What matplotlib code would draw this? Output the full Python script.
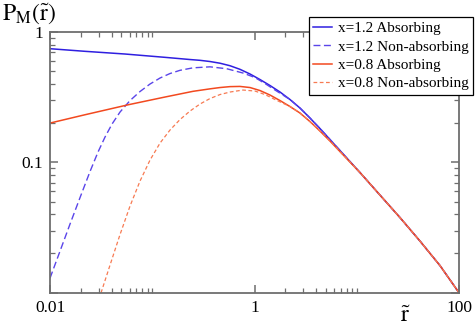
import matplotlib
matplotlib.use('Agg')
import matplotlib.pyplot as plt
from matplotlib.ticker import FixedLocator, FixedFormatter, NullFormatter

plt.rcParams['font.family'] = ['Liberation Serif', 'DejaVu Serif']
plt.rcParams['mathtext.fontset'] = 'stix'

# x=1.2 Absorbing
r_b_abs = [0.01, 0.02199, 0.05413, 0.1332, 0.2339, 0.2931, 0.3671, 0.4599, 0.5760,
           0.7215, 0.9037, 1.132, 1.418, 1.776, 2.224, 2.786, 3.490, 4.371, 5.475,
           6.858, 10.76, 16.88, 26.49, 41.56, 65.21, 100]
p_b_abs = [0.7446, 0.7110, 0.6779, 0.6393, 0.6150, 0.6065, 0.5938, 0.5762, 0.5512,
           0.5172, 0.4762, 0.4318, 0.3885, 0.3464, 0.3034, 0.2610, 0.2188, 0.1817, 0.1496,
           0.1232, 0.0835, 0.0561, 0.0377, 0.02489, 0.01614, 0.01]

# x=1.2 Non-absorbing
r_b_non = [0.01, 0.01253, 0.01569, 0.01966, 0.02461, 0.02946, 0.03450, 0.04040, 0.04837,
           0.06059, 0.07590, 0.09506, 0.1191, 0.1491, 0.1868, 0.2503, 0.3671, 0.5346,
           0.7718, 1.011, 1.267, 1.587, 2.224, 2.786, 3.490, 4.371, 5.475,
           6.858, 10.76, 16.88, 26.49, 41.56, 65.21, 100]
p_b_non = [0.01294, 0.02086, 0.03362, 0.05369, 0.08501, 0.1199, 0.1563, 0.1967, 0.2432,
           0.2979, 0.3495, 0.3990, 0.4436, 0.4802, 0.5083, 0.5311, 0.5406, 0.5228,
           0.4845, 0.4474, 0.4025, 0.3588, 0.3034, 0.2610, 0.2188, 0.1817, 0.1496,
           0.1232, 0.0835, 0.0561, 0.0377, 0.02489, 0.01614, 0.01]

# x=0.8 Absorbing
r_r_abs = [0.01, 0.02199, 0.05832, 0.1332, 0.2503, 0.3671, 0.4599, 0.5760, 0.7215,
           0.9037, 1.132, 1.418, 1.776, 2.224, 2.786, 3.490, 4.371, 5.475, 6.858,
           10.76, 16.88, 26.49, 41.56, 65.21, 100]
p_r_abs = [0.2002, 0.2319, 0.2767, 0.3171, 0.3507, 0.3664, 0.3750, 0.3811, 0.3824,
           0.3750, 0.3556, 0.3284, 0.2979, 0.2681, 0.2390, 0.2056, 0.1738, 0.1457, 0.1210,
           0.0835, 0.0561, 0.0377, 0.02489, 0.01614, 0.01]

# x=0.8 Non-absorbing
r_r_non = [0.03154, 0.03862, 0.04837, 0.06059, 0.07590, 0.09506, 0.1191, 0.1491, 0.1868,
           0.2339, 0.2931, 0.3671, 0.4599, 0.5760, 0.7718, 1.011, 1.267, 1.587, 2.224,
           2.786, 3.490, 4.371, 5.475, 6.858, 10.76, 16.88, 26.49, 41.56, 65.21, 100]
p_r_non = [0.00997, 0.01628, 0.02792, 0.04620, 0.07187, 0.1041, 0.1406, 0.1770, 0.2131,
           0.2475, 0.2803, 0.3088, 0.3313, 0.3464, 0.3588, 0.3525, 0.3313, 0.3034, 0.2681,
           0.2390, 0.2056, 0.1738, 0.1457, 0.1210, 0.0835, 0.0561, 0.0377, 0.02489,
           0.01614, 0.01]

labels = ['x=1.2 Absorbing', 'x=1.2 Non-absorbing', 'x=0.8 Absorbing', 'x=0.8 Non-absorbing']

x_major = [0.01, 1, 100]
x_major_labels = ['0.01', '1', '100']
x_minor = [0.02, 0.03, 0.04, 0.05, 0.06, 0.07, 0.08, 0.09, 0.1,
           2, 3, 4, 5, 6, 7, 8, 9, 10]
y_major = [0.01, 0.1, 1]
y_major_labels = ['', '0.1', '1']
y_minor = [0.02, 0.03, 0.04, 0.05, 0.06, 0.07, 0.08, 0.09,
           0.2, 0.3, 0.4, 0.5, 0.6, 0.7, 0.8, 0.9]

fig = plt.figure(figsize=(4.75, 3.29), dpi=100)
ax = fig.add_axes([0.1053, 0.1103, 0.8610, 0.7924])

blue = '#2f1fe0'
blue_d = '#5a45ea'
red = '#f2491f'
red_d = '#f77a52'

l1, = ax.plot(r_b_abs, p_b_abs, color=blue, lw=1.1)
l2, = ax.plot(r_b_non, p_b_non, color=blue_d, lw=1.0, dashes=(5, 2.5))
l3, = ax.plot(r_r_abs, p_r_abs, color=red, lw=1.1)
l4, = ax.plot(r_r_non, p_r_non, color=red_d, lw=0.9, dashes=(3, 2))

ax.set_xscale('log')
ax.set_yscale('log')
ax.set_xlim(0.01, 100)
ax.set_ylim(0.01, 1)

ax.xaxis.set_major_locator(FixedLocator(x_major))
ax.xaxis.set_major_formatter(FixedFormatter(x_major_labels))
ax.xaxis.set_minor_locator(FixedLocator(x_minor))
ax.xaxis.set_minor_formatter(NullFormatter())
ax.yaxis.set_major_locator(FixedLocator(y_major))
ax.yaxis.set_major_formatter(FixedFormatter(y_major_labels))
ax.yaxis.set_minor_locator(FixedLocator(y_minor))
ax.yaxis.set_minor_formatter(NullFormatter())

sc = '#6e6e6e'
for s in ax.spines.values():
    s.set_color(sc)
    s.set_linewidth(1.3)
ax.tick_params(which='both', direction='in', top=True, right=True, color=sc,
               labelsize=12.5, labelcolor='black')
ax.tick_params(which='major', length=6, width=1.1, pad=5)
ax.tick_params(which='minor', length=3.5, width=0.9)

fig.text(0.005, 0.995, r'$\mathrm{P_M(\tilde{r})}$', fontsize=17, ha='left', va='top')
fig.text(0.853, 0.005, r'$\tilde{\mathrm{r}}$', fontsize=17, ha='center', va='bottom')

leg = fig.legend([l1, l2, l3, l4], labels, loc='upper right',
                 bbox_to_anchor=(0.996, 0.948), fontsize=11, frameon=True,
                 fancybox=False, edgecolor='black', framealpha=1,
                 handlelength=1.2, handletextpad=0.4, labelspacing=0.3,
                 borderpad=0.3, borderaxespad=0)
leg.get_frame().set_linewidth(0.9)

fig.savefig('out.png', dpi=100)
